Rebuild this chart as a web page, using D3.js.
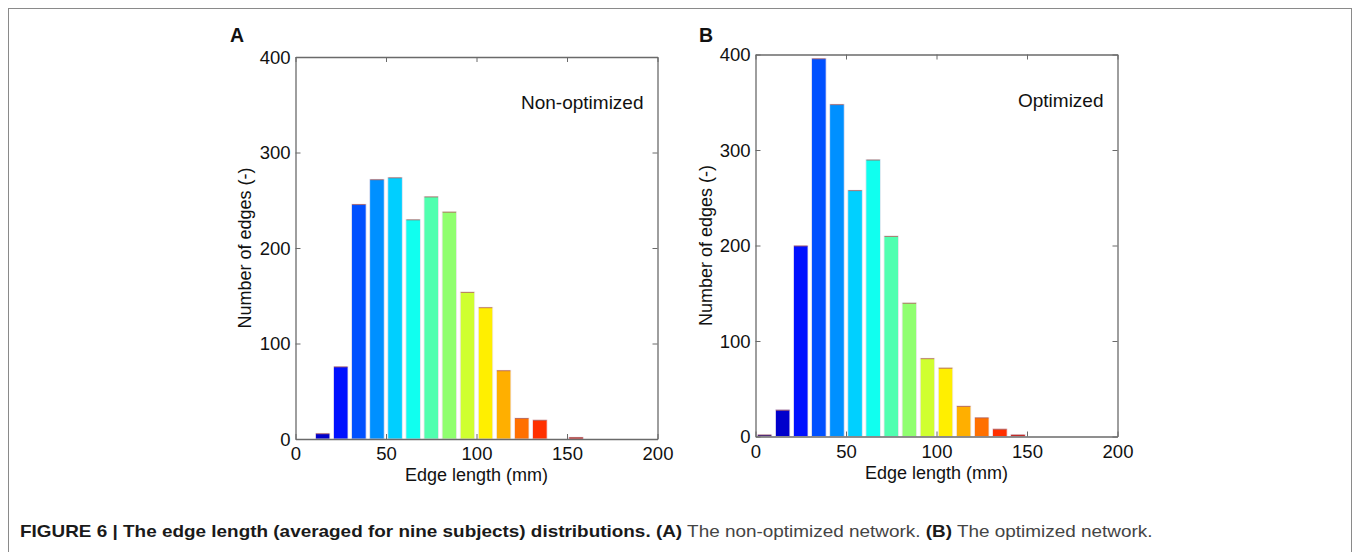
<!DOCTYPE html>
<html><head><meta charset="utf-8">
<script src="https://cdn.jsdelivr.net/npm/d3@7"></script>
<style>
html,body{margin:0;padding:0;background:#fff;}
svg{display:block;font-family:"Liberation Sans",Arial,sans-serif;}
</style></head>
<body>
<svg id="chart" width="1358" height="552"></svg>
<script>
// ---- data ----
const binCentersA = [15,25,35,45,55,65,75,85,95,105,115,125,135,145,155];
const countsA     = [6,76,246,272,274,230,254,238,154,138,72,22,20,0,2];
const colorsA     = ["#0000cc","#0010ff","#0050ff","#0090ff","#00cfff","#10ffef","#50ffaf","#90ff6f","#cfff30","#ffef00","#ffaf00","#ff7000","#ff3000","#e00000","#c00000"];

const binCentersB = [5,15,25,35,45,55,65,75,85,95,105,115,125,135,145];
const countsB     = [2,28,200,396,348,258,290,210,140,82,72,32,20,8,2];
const colorsB     = ["#00008f","#0000cc","#0010ff","#0050ff","#0090ff","#00d0ff","#10ffef","#50ffb0","#90ff70","#d0ff30","#ffef00","#ffaf00","#ff7000","#ff3000","#d00000"];

const xTicks = [0,50,100,150,200];
const yTicks = [0,100,200,300,400];
const binWidth = 10;

const svg = d3.select("#chart");

// outer frame
svg.append("rect").attr("x",8.5).attr("y",8.5).attr("width",1343).attr("height",580)
  .attr("fill","none").attr("stroke","#8a8a8a").attr("stroke-width",1);

function panel(opt){
  const x = d3.scaleLinear().domain([0,200]).range([opt.x0,opt.x1]);
  const y = d3.scaleLinear().domain([0,400]).range([opt.y0,opt.y1]);
  const g = svg.append("g");
  const data = opt.centers.map((c,i)=>({c, v:opt.counts[i], col:opt.colors[i]})).filter(d=>d.v>0);
  const bw = (x(binWidth)-x(0))*0.8;
  g.selectAll("rect.bar").data(data).enter().append("rect").attr("class","bar")
    .attr("x",d=>x(d.c)-bw/2).attr("width",bw)
    .attr("y",d=>y(d.v)).attr("height",d=>y(0)-y(d.v))
    .attr("fill",d=>d.col).attr("stroke","#efe6f0").attr("stroke-width",0.8);
  g.selectAll("line.top").data(data).enter().append("line").attr("class","top")
    .attr("x1",d=>x(d.c)-bw/2+0.5).attr("x2",d=>x(d.c)+bw/2-0.5)
    .attr("y1",d=>y(d.v)+0.5).attr("y2",d=>y(d.v)+0.5)
    .attr("stroke","#b0605a").attr("stroke-width",1).attr("stroke-opacity",0.8);

  const axCol = "#6a6a6a";
  const bottom = g.append("g").attr("transform",`translate(0,${opt.y0})`)
    .call(d3.axisBottom(x).tickValues(xTicks).tickSize(-5).tickPadding(8).tickSizeOuter(0));
  const top = g.append("g").attr("transform",`translate(0,${opt.y1})`)
    .call(d3.axisTop(x).tickValues(xTicks).tickSize(-5).tickFormat("").tickSizeOuter(0));
  const left = g.append("g").attr("transform",`translate(${opt.x0},0)`)
    .call(d3.axisLeft(y).tickValues(yTicks).tickSize(-5).tickPadding(5).tickSizeOuter(0));
  const right = g.append("g").attr("transform",`translate(${opt.x1},0)`)
    .call(d3.axisRight(y).tickValues(yTicks).tickSize(-5).tickFormat("").tickSizeOuter(0));
  [bottom,top,left,right].forEach(a=>{
    a.selectAll(".domain").attr("stroke",axCol).attr("stroke-width",1.3);
    a.selectAll(".tick line").attr("stroke",axCol);
    a.selectAll("text").attr("fill","#111").style("font-size","18.5px").style("font-family","Liberation Sans, Arial, sans-serif");
  });
  bottom.selectAll("text").attr("dy","0.71em");
  left.selectAll("text").attr("dy","0.35em");

  g.append("text").attr("x",(opt.x0+opt.x1)/2).attr("y",opt.y0+42)
    .attr("text-anchor","middle").style("font-size","18px").attr("fill","#111").text("Edge length (mm)");
  g.append("text").attr("transform",`translate(${opt.ylabX},${(opt.y0+opt.y1)/2}) rotate(-90)`)
    .attr("text-anchor","middle").style("font-size","18px").attr("fill","#111").text("Number of edges (-)");
  g.append("text").attr("x",opt.x1-14).attr("y",opt.y1+52)
    .attr("text-anchor","end").style("font-size","19px").attr("fill","#111").text(opt.title);
  g.append("text").attr("x",opt.letterX).attr("y",42)
    .style("font-size","19.5px").style("font-weight","bold").attr("fill","#111").text(opt.letter);
}

panel({x0:295.5,x1:657.5,y0:439,y1:57,centers:binCentersA,counts:countsA,colors:colorsA,
  title:"Non-optimized",letter:"A",letterX:230,ylabX:251});
panel({x0:755.5,x1:1117.5,y0:436.5,y1:54.5,centers:binCentersB,counts:countsB,colors:colorsB,
  title:"Optimized",letter:"B",letterX:699,ylabX:712});

// caption
const cap = svg.append("text").attr("x",20).attr("y",537).style("font-size","16px");
cap.append("tspan").style("font-weight","bold").attr("fill","#1a1a1a").text("FIGURE 6 | The edge length (averaged for nine subjects) distributions.");
cap.append("tspan").style("font-weight","bold").attr("fill","#1a1a1a").text(" (A)");
cap.append("tspan").attr("fill","#444").text(" The non-optimized network.");
cap.append("tspan").style("font-weight","bold").attr("fill","#1a1a1a").text(" (B)");
cap.append("tspan").attr("fill","#444").text(" The optimized network.");
const w = cap.node().getComputedTextLength();
const target = 1133;
cap.attr("transform",`translate(20,0) scale(${target/w},1) translate(-20,0)`);
</script>
</body></html>
